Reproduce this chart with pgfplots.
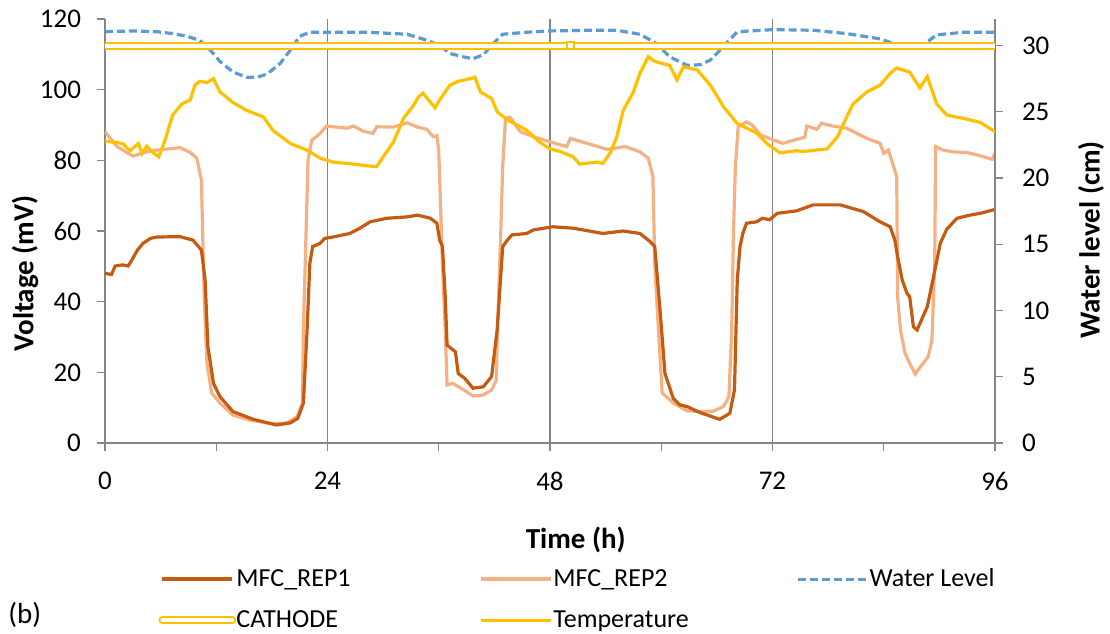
\documentclass[border=0pt]{standalone}
\usepackage{fontspec}
\setmainfont{Carlito}
\usepackage{pgfplots}
\pgfplotsset{compat=1.18}
\definecolor{rep1}{HTML}{C55A11}
\definecolor{rep2}{HTML}{F4B183}
\definecolor{wl}{HTML}{5B9BD5}
\definecolor{tmp}{HTML}{FFC000}
\definecolor{axg}{HTML}{868686}
\begin{document}
\begin{tikzpicture}
\pgfplotsset{
  common/.style={
    scale only axis, width=445pt, height=212pt,
    xmin=0, xmax=96,
    tick align=outside, major tick length=4pt, minor tick length=4pt,
    every tick/.style={axg, line width=0.6pt},
    axis line style={axg, line width=0.8pt},
    /pgf/number format/assume math mode=true,
    tick label style={font=\fontsize{13.5}{15}\selectfont},
    label style={font=\fontsize{14.5}{16}\selectfont\bfseries},
  }
}
\begin{axis}[common, name=ax,
  axis x line*=bottom, axis y line*=left,
  xtick={0,24,48,72,96}, minor xtick={12,36,60,84},
  xmajorgrids, major grid style={axg, line width=0.6pt},
  ymin=0, ymax=120, ytick={0,20,...,120},
  xticklabel style={yshift=-7pt},
  yticklabel style={xshift=-4.5pt},
  xlabel={Time (h)}, ylabel={Voltage (mV)},
  xlabel style={at={(axis description cs:0.529,-0.229)}, anchor=center},
  ylabel style={at={(axis description cs:-0.0899,0.40)}, anchor=center},
]
\addplot[rep2, line width=1.6pt] coordinates {
(0,88.1)(1.3,83.9)(3.0,81.2)(4.9,82.7)(6.7,83.2)(8.1,83.6)(9.2,82.2)(9.9,80.6)(10.4,74.4)(10.7,41.4)(11.0,22.6)(11.5,14.2)(12.4,11.3)(13.8,7.9)(15.6,6.5)(18.1,5.4)(19.6,5.7)(20.7,7.4)(21.3,11.3)(21.4,32)(21.6,50.9)(21.9,80.1)(22.3,85.7)(23.2,87.6)(23.9,89.7)(26.1,89.1)(26.8,89.7)(27.8,88.3)(28.9,87.6)(29.3,89.5)(31.1,89.4)(32.6,90.6)(33.7,89.4)(34.7,88.8)(35.4,86.7)(35.8,87)(36.0,82.9)(36.4,50.9)(36.7,32)(36.9,16.4)(37.5,16.9)(38.6,15.2)(39.7,13.3)(40.8,13.6)(41.7,15.0)(42.2,17.8)(42.4,36.8)(42.7,60.3)(42.9,78.2)(43.2,91.9)(43.7,92.2)(44.8,88.1)(46.2,86.7)(48.3,85.0)(49.8,83.9)(50.2,86.2)(52.0,84.8)(54.2,83.1)(56.1,83.9)(57.7,82.4)(58.6,80.6)(59.1,75.4)(59.3,50.9)(59.7,32)(60.1,14.2)(61.3,11.3)(62.8,9.1)(64.2,8.9)(65.6,9.0)(66.7,10.3)(67.3,13.1)(67.6,32)(67.8,60.3)(68.0,78.2)(68.3,89.5)(69.2,90.9)(69.8,90)(70.7,87.2)(73.1,84.8)(75.0,86.2)(75.5,86.6)(75.7,89.7)(76.8,88.8)(77.3,90.5)(78.5,89.7)(80.0,89.1)(82.2,86.2)(83.6,84.8)(84.0,82)(84.5,82.9)(85.4,75.4)(85.5,41.4)(85.8,32)(86.3,25.4)(86.8,22.6)(87.4,19.5)(87.9,21.4)(88.8,24.4)(89.2,29.1)(89.5,50.9)(89.6,83.9)(90.4,82.9)(91.5,82.4)(93.0,82.2)(94.4,81.3)(95.7,80.3)(96,82.0)
};
\addplot[rep1, line width=1.6pt] coordinates {
(0,48.0)(0.7,47.7)(1.1,50.1)(1.9,50.4)(2.5,50.1)(2.9,51.8)(3.5,54.6)(4.1,56.5)(4.9,57.9)(5.6,58.3)(8.1,58.4)(9.5,57.4)(10.4,54.6)(10.8,46.1)(11.1,27.3)(11.7,16.9)(12.4,13.1)(13.8,8.9)(16.0,6.7)(18.5,5.1)(20.0,5.7)(20.8,7.0)(21.4,11.3)(21.8,32)(22.1,50.9)(22.4,55.6)(23.2,56.5)(23.7,57.9)(24.6,58.3)(26.4,59.3)(27.5,60.8)(28.6,62.6)(30.4,63.6)(32.6,64.0)(33.7,64.5)(35.1,63.6)(35.8,62.2)(36.1,57.4)(36.4,55.6)(36.7,41.4)(36.9,27.7)(37.8,25.8)(38.1,19.7)(38.8,18.3)(39.7,15.5)(40.8,15.9)(41.7,18.8)(42.3,32)(42.9,55.6)(43.4,57.4)(43.9,58.9)(45.5,59.3)(46.2,60.3)(48.3,61.2)(50.5,60.8)(53.7,59.3)(55.9,60)(57.7,59.3)(58.8,57.0)(59.3,55.6)(59.9,36.7)(60.4,19.7)(61.3,12.6)(62.0,10.8)(62.8,10.3)(64.2,8.6)(66.3,6.7)(67.4,8.4)(67.9,15)(68.2,46.1)(68.5,55.6)(68.8,59.3)(69.2,62.2)(70.3,62.6)(70.9,63.6)(71.7,63.2)(72.5,65)(74.6,65.7)(76.4,67.4)(79.3,67.4)(81.8,65.5)(83.6,62.6)(84.7,61.2)(85.2,57.4)(85.5,52.7)(86.0,46.1)(86.5,42.4)(86.8,41.4)(87.2,32.9)(87.6,32)(88.7,38.6)(89.3,46.1)(90.1,56.5)(90.8,60.5)(91.9,63.6)(93.3,64.5)(94.4,65)(96,66.1)
};
\end{axis}
\begin{axis}[common,
  axis x line=none, axis y line*=right,
  ymin=0, ymax=32, ytick={0,5,...,30},
  yticklabel style={xshift=6pt},
  ylabel={Water level (cm)},
  ylabel style={at={(axis description cs:1.108,0.479)}, anchor=center},
  legend columns=3,
  legend image code/.code={\draw[#1] (0pt,0pt) -- (35pt,0pt);},
  legend cell align=left,
  legend style={at={(axis description cs:0.0596,-0.2925)}, anchor=north west,
    draw=none, fill=none, inner sep=0pt, row sep=8.5pt,
    font=\fontsize{13}{15}\selectfont,
    nodes={inner sep=0pt, text height=9.5pt, text depth=2.5pt},
    /tikz/every odd column/.append style={column sep=0pt}},
]
\addlegendimage{rep1, line width=2pt}
\addlegendentry{\makebox[121.5pt][l]{MFC\_REP1}}
\addlegendimage{rep2, line width=2pt}
\addlegendentry{\makebox[121.5pt][l]{MFC\_REP2}}
\addplot[wl, line width=1.6pt, dash pattern=on 4pt off 2pt] coordinates {
(0,31.04)(3.0,31.1)(5.6,31.04)(7.3,30.9)(8.8,30.7)(10.2,30.4)(11.3,29.7)(12.4,28.8)(13.8,28.0)(15.3,27.6)(16.4,27.6)(17.5,27.85)(18.9,28.65)(20.0,29.66)(21.0,30.7)(22.1,31.0)(24.3,31.0)(28.3,31.0)(32.6,30.85)(34.7,30.4)(36.1,30.0)(37.2,29.4)(38.6,29.15)(39.7,29.0)(40.8,29.3)(41.9,30.15)(42.9,30.85)(45.5,31.0)(48.0,31.1)(52.3,31.15)(55.2,31.15)(57.7,30.85)(59.5,30.15)(60.9,29.15)(62.8,28.5)(64.2,28.55)(65.3,28.9)(66.0,29.4)(68.2,31.04)(72.1,31.2)(76.4,31.15)(80.0,30.9)(83.6,30.5)(86.5,29.8)(87.9,29.85)(89.7,30.8)(92.6,31.0)(96,31.0)
};
\addlegendentry{Water Level}
\addplot[tmp, line width=1pt, double=white, double distance=2pt, line cap=round] coordinates {(0,30)(96,30)};
\addlegendentry{CATHODE}
\addplot[tmp, line width=1.6pt] coordinates {
(0,22.8)(1.9,22.6)(2.7,22.06)(3.6,22.6)(4.0,21.86)(4.5,22.4)(5.2,21.9)(5.8,21.6)(6.5,22.9)(7.3,24.75)(8.3,25.6)(9.2,25.9)(9.7,27.0)(10.2,27.3)(11.0,27.2)(11.7,27.5)(12.4,26.5)(13.8,25.7)(15.3,25.1)(17.1,24.6)(18.1,23.6)(20.0,22.6)(21.8,22.1)(23.2,21.5)(24.6,21.2)(26.8,21.05)(28.6,20.9)(29.3,20.85)(30.0,21.6)(31.1,22.7)(32.2,24.5)(33.2,25.4)(33.8,26.1)(34.3,26.4)(35.6,25.3)(36.1,25.9)(37.2,27.0)(38.1,27.3)(39.4,27.5)(39.9,27.6)(40.5,26.5)(41.7,26.0)(42.3,25.0)(43.4,24.4)(45.5,23.6)(46.9,22.7)(48.0,22.2)(49.1,22.0)(50.5,21.6)(51.2,21.05)(53.1,21.2)(53.7,21.1)(54.5,21.9)(55.2,23.1)(55.9,25.1)(57.0,26.5)(57.7,27.9)(58.6,29.15)(59.3,28.8)(60.9,28.5)(61.7,27.4)(62.4,28.4)(63.9,28.15)(65.3,27.0)(66.7,25.4)(68.2,24.1)(70.3,23.4)(71.4,22.6)(72.8,21.9)(74.6,22.06)(75.3,22.0)(77.9,22.2)(79.0,23.1)(80.0,24.6)(80.7,25.6)(82.2,26.5)(83.6,27.0)(84.7,27.9)(85.4,28.3)(86.8,28.0)(87.9,26.8)(88.7,27.65)(89.7,25.6)(90.8,24.75)(92.6,24.5)(94.4,24.2)(96,23.5)
};
\addlegendentry{Temperature}
\addplot[forget plot, only marks, mark=square*, mark size=1.8pt, mark options={draw=tmp, fill=white, line width=0.9pt}] coordinates {(50.2,30)};
\end{axis}
\node[anchor=west, font=\fontsize{14.5}{16}\selectfont, inner sep=0pt] at ([shift={(-48.5pt,-86pt)}]ax.south west) {(b)};
\pgfresetboundingbox
\path[use as bounding box] ([shift={(-52.5pt,-95pt)}]ax.south west) rectangle ([shift={(502.5pt,221.5pt)}]ax.south west);
\end{tikzpicture}
\end{document}
